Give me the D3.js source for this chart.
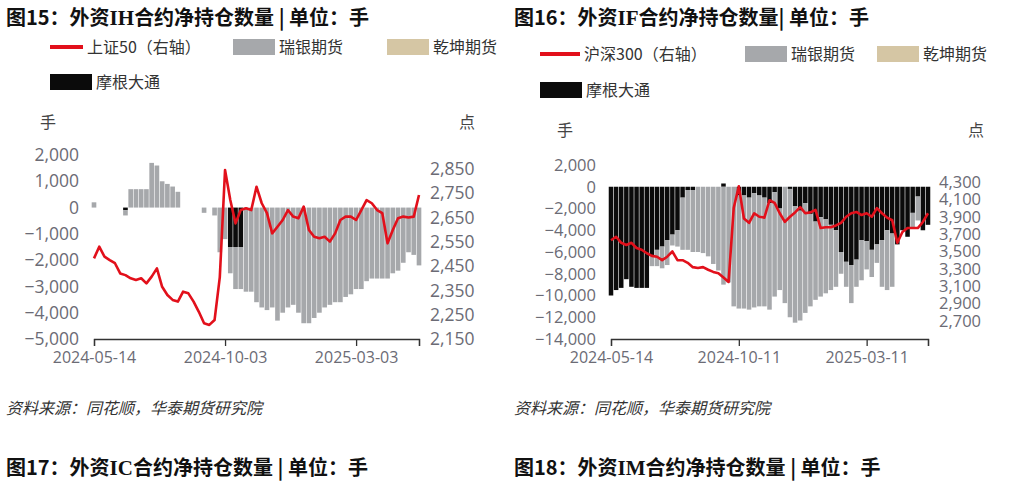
<!DOCTYPE html>
<html><head><meta charset="utf-8">
<script src="https://cdn.jsdelivr.net/npm/d3@7"></script>
<style>
body{margin:0;background:#fff;font-family:"Noto Sans CJK SC","Noto Sans",sans-serif}
</style></head><body>
<svg id="c" width="1026" height="494"></svg>
<script>
// weekly samples, index 0 = 2024-05-14
const tickIdx = [0, 25, 50]
const ihTicks = ['2024-05-14', '2024-10-03', '2025-03-03']
const ifTicks = ['2024-05-14', '2024-10-11', '2025-03-11']

const ihUbs = [200,0,0,0,0,0,-200,700,700,700,700,1700,1600,1000,900,800,600,0,0,0,0,-200,0,-300,-1700,-1200,
  -1000,-1600,-1600,-3200,-3200,-3600,-3800,-3900,-3800,-4300,-4000,-3800,-3700,-4000,-4400,-4400,-4200,-4000,
  -3800,-3700,-3600,-3600,-3400,-3300,-3100,-3100,-2800,-2700,-2700,-2700,-2700,-2500,-2400,-2100,-1700,-1800,-2200]
const ihJpm = [0,0,0,0,0,0,-100,0,0,0,0,0,0,0,0,0,0,0,0,0,0,0,0,0,0,0,-1500,-1500,-1500,0,0,0,0,0,0,0,0,0,0,
  0,0,0,0,0,0,0,0,0,0,0,0,0,0,0,0,0,0,0,0,0,0,0,0]
const ihIndex = [2482,2530,2489,2475,2462,2420,2413,2400,2393,2400,2379,2407,2441,2365,2331,2311,2304,2345,2338,
  2304,2262,2215,2208,2228,2405,2846,2722,2626,2681,2688,2681,2777,2709,2668,2585,2612,2640,2681,2654,2647,2695,
  2599,2571,2565,2571,2551,2585,2640,2654,2654,2640,2681,2722,2709,2681,2668,2544,2599,2647,2654,2650,2654,2743]

const ifJpm = [-10000,-9500,-9300,-8500,-9200,-9300,-9300,-9300,-6300,-5800,-5500,-4900,-4400,-4000,-1000,-300,-300,
  0,0,0,0,0,300,0,0,-800,-800,-1000,-600,-800,-1000,-1500,-500,-2000,0,-200,-1800,-2200,-1500,-2500,-3200,-2800,
  -3000,-3500,-4000,-6000,-6900,-7200,-6700,-4900,-5000,-5800,-5300,-4900,-4000,-4300,-5300,-4000,-4600,-2400,-900,-4000,-3500]
const ifUbs = [0,0,0,0,0,0,0,0,-1000,-1500,-2000,-2300,-1000,-1500,-4800,-5500,-5700,-6000,-6100,-6400,-7100,-7700,
  -9000,-8800,-11000,-10400,-10400,-10300,-10500,-10200,-10000,-9800,-9600,-7500,-10700,-11800,-10700,-10100,-10100,
  -8500,-7200,-7300,-6800,-6000,-5200,-2000,-2300,-3500,-2500,-3700,-2600,-2500,-1700,-4300,-5500,-4900,0,0,0,-1300,-2200,0,0]
const ifIndex = [3630,3670,3600,3575,3600,3540,3520,3480,3450,3440,3400,3440,3500,3400,3400,3370,3320,3310,3320,3290,
  3265,3250,3200,3150,4000,4250,3880,3830,3940,3900,3890,4090,4060,3940,3840,3900,3950,4010,3940,3950,3980,3770,3780,
  3780,3800,3830,3900,3940,3955,3920,3940,3900,4000,3940,3890,3860,3600,3725,3770,3770,3770,3840,3940]

const ihLeftTicks = [2000,1000,0,-1000,-2000,-3000,-4000,-5000]
const ihRightTicks = [2150,2250,2350,2450,2550,2650,2750,2850]
const ifLeftTicks = [2000,0,-2000,-4000,-6000,-8000,-10000,-12000,-14000]
const ifRightTicks = [2700,2900,3100,3300,3500,3700,3900,4100,4300]

const C = { red: '#e2101b', gray: '#a6a8ab', tan: '#d5c6a4', black: '#0b0b0b', text: '#6b6b75' }
const svg = d3.select('#c')
const fmt = d3.format(',')

function title(x, y, parts) {
  const t = svg.append('text').attr('x', x).attr('y', y).style('font-weight', 'bold').style('font-size', '20px').attr('fill', '#111')
  parts.forEach(p => t.append('tspan').text(p[0]).style('font-family', p[1] ? '"Liberation Serif",serif' : null).style('font-size', p[1] ? '21px' : null))
}

function panel(o) {
  const x = d3.scaleLinear().domain([0, o.ubs.length - 1]).range([o.x0, o.x1])
  const yL = d3.scaleLinear().domain(o.lDom).range(o.lRange)
  const yR = d3.scaleLinear().domain(o.rDom).range(o.rRange)
  const bw = (o.x1 - o.x0) / (o.ubs.length - 1) - 0.6
  const g = svg.append('g')

  // legend
  const lg = g.append('g').style('font-size', '16px').attr('fill', '#333')
  lg.append('line').attr('x1', o.leg[0]).attr('x2', o.leg[0] + o.lineW).attr('y1', o.legY).attr('y2', o.legY).attr('stroke', C.red).attr('stroke-width', 4)
  lg.append('text').attr('x', o.leg[0] + o.lineW + 4).attr('y', o.legY + 6).text(o.idxName)
  ;[[o.leg[1], C.gray, '瑞银期货', o.legY], [o.leg[2], C.tan, '乾坤期货', o.legY], [o.leg[0], C.black, '摩根大通', o.legY2]].forEach(d => {
    lg.append('rect').attr('x', d[0]).attr('y', d[3] - 8).attr('width', 42).attr('height', 16).attr('fill', d[1])
    lg.append('text').attr('x', d[0] + 46).attr('y', d[3] + 6).text(d[2])
  })

  g.append('text').attr('x', o.x0 - 54).attr('y', o.unitY).text('手').style('font-size', '16px').attr('fill', '#444')
  g.append('text').attr('x', o.x1 + 40).attr('y', o.unitY).text('点').style('font-size', '16px').attr('fill', '#444')

  // bars: JPM next to zero, UBS stacked beyond it
  const bars = g.append('g')
  o.ubs.forEach((u, i) => {
    const j = o.jpm[i]
    if (j) bars.append('rect').attr('x', x(i) - bw / 2).attr('width', bw)
      .attr('y', Math.min(yL(0), yL(j))).attr('height', Math.abs(yL(j) - yL(0))).attr('fill', C.black)
    const base = j < 0 && u < 0 ? j : 0
    if (u) bars.append('rect').attr('x', x(i) - bw / 2).attr('width', bw)
      .attr('y', Math.min(yL(base), yL(base + u))).attr('height', Math.abs(yL(base + u) - yL(base))).attr('fill', C.gray)
  })

  g.append('path').datum(o.idx).attr('fill', 'none').attr('stroke', C.red).attr('stroke-width', 2.6)
    .attr('stroke-linejoin', 'round')
    .attr('d', d3.line().x((d, i) => x(i)).y(d => yR(d)))

  const ax = g.append('g').attr('transform', `translate(0,${o.axisY})`)
    .call(d3.axisBottom(x).tickValues([...tickIdx, o.ubs.length - 1]).tickFormat((d, i) => o.ticks[i] || '').tickSizeOuter(0).tickSize(7))
  ax.select('.domain').attr('stroke', '#333').attr('stroke-width', 1.3)
  ax.selectAll('.tick line').attr('stroke', '#333').attr('stroke-width', 1.3)
  ax.selectAll('text').attr('fill', C.text).style('font-size', '16px').style('font-family', '"Open Sans",sans-serif').attr('dy', '0.85em')

  const yl = g.append('g').attr('transform', `translate(${o.x0 - 12},0)`)
    .call(d3.axisLeft(yL).tickValues(o.lTicks).tickFormat(fmt).tickSize(0))
  const yr = g.append('g').attr('transform', `translate(${o.x1 + 8},0)`)
    .call(d3.axisRight(yR).tickValues(o.rTicks).tickFormat(fmt).tickSize(0))
  ;[yl, yr].forEach(a => {
    a.select('.domain').remove()
    a.selectAll('text').attr('fill', C.text).style('font-size', o.fs).style('font-family', '"Open Sans",sans-serif')
  })

  g.append('text').attr('x', o.src).attr('y', 414).text('资料来源：同花顺，华泰期货研究院')
    .style('font-size', '16px').style('font-style', 'italic').attr('fill', '#333')
}

title(6, 25, [['图15：外资'], ['IH', 1], ['合约净持仓数量 | 单位：手']])
title(514, 25, [['图16：外资'], ['IF', 1], ['合约净持仓数量| 单位：手']])
title(6, 475, [['图17：外资'], ['IC', 1], ['合约净持仓数量 | 单位：手']])
title(514, 475, [['图18：外资'], ['IM', 1], ['合约净持仓数量 | 单位：手']])

panel({ x0: 94, x1: 419, ubs: ihUbs, jpm: ihJpm, idx: ihIndex, ticks: ihTicks, idxName: '上证50（右轴）',
  lDom: [2000, -5000], lRange: [155, 339], rDom: [2850, 2150], rRange: [169, 339], lTicks: ihLeftTicks, rTicks: ihRightTicks,
  axisY: 339, unitY: 128, leg: [50, 233, 387], lineW: 33, legY: 47, legY2: 82, fs: '17.5px', src: 6 })
panel({ x0: 611, x1: 928, ubs: ifUbs, jpm: ifJpm, idx: ifIndex, ticks: ifTicks, idxName: '沪深300（右轴）',
  lDom: [2000, -14000], lRange: [165, 339], rDom: [4300, 2700], rRange: [182, 321], lTicks: ifLeftTicks, rTicks: ifRightTicks,
  axisY: 339, unitY: 136, leg: [540, 745, 877], lineW: 40, legY: 54, legY2: 90, fs: '16.5px', src: 514 })
</script></body></html>
